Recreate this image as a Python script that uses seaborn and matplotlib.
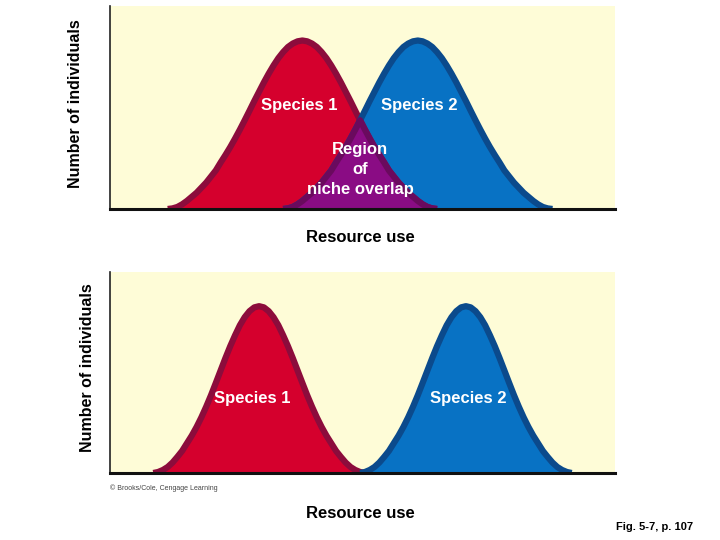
import numpy as np
import matplotlib
matplotlib.use("Agg")
import matplotlib.pyplot as plt
import seaborn as sns

# ---- data (resource use axis 0-105, individuals 0-100) ----
# top panel: both species on one grid, x = 12 .. 92 (zeros outside each niche)
top_x = [12, 13, 14, 15, 16, 17, 18, 19, 20, 21, 22, 23, 24, 25, 26, 27, 28, 29, 30, 31,
         32, 33, 34, 35, 36, 37, 38, 39, 40, 41, 42, 43, 44, 45, 46, 47, 48, 49, 50, 51,
         52, 53, 54, 55, 56, 57, 58, 59, 60, 61, 62, 63, 64, 65, 66, 67, 68, 69, 70, 71,
         72, 73, 74, 75, 76, 77, 78, 79, 80, 81, 82, 83, 84, 85, 86, 87, 88, 89, 90, 91, 92]
top_species1 = [0, 0.3, 1, 2.3, 4, 6, 8, 10.5, 13, 16, 19, 22.9, 26.6, 30.5, 34.7, 39.1,
                43.7, 48.4, 53.2, 57.8, 62.4, 66.7, 70.7, 74.3, 77.3, 79.8, 81.5, 82.6, 83,
                82.6, 81.5, 79.8, 77.3, 74.3, 70.7, 66.7, 62.4, 57.8, 53.2, 48.4, 43.7, 39.1,
                34.7, 30.5, 26.6, 22.9, 19, 16, 13, 10.5, 8, 6, 4, 2.3, 1, 0.3, 0] + [0] * 24
top_species2 = [0] * 24 + [0, 0.3, 1, 2.3, 4, 6, 8, 10.5, 13, 16, 19, 22.9, 26.6, 30.5, 34.7,
                           39.1, 43.7, 48.4, 53.2, 57.8, 62.4, 66.7, 70.7, 74.3, 77.3, 79.8,
                           81.5, 82.6, 83, 82.6, 81.5, 79.8, 77.3, 74.3, 70.7, 66.7, 62.4,
                           57.8, 53.2, 48.4, 43.7, 39.1, 34.7, 30.5, 26.6, 22.9, 19, 16, 13,
                           10.5, 8, 6, 4, 2.3, 1, 0.3, 0]

# bottom panel: separate niches
bottom_x1 = [9, 10, 11, 12, 13, 14, 15, 16, 17, 18, 19, 20, 21, 22, 23, 24, 25, 26, 27, 28,
             29, 30, 31, 32, 33, 34, 35, 36, 37, 38, 39, 40, 41, 42, 43, 44, 45, 46, 47, 48,
             49, 50, 51, 52, 53]
bottom_species1 = [0, 0.5, 1.5, 3, 5.2, 8, 11, 14.8, 18.6, 22.9, 27.7, 33, 38.7, 44.8, 51,
                   57.2, 63.1, 68.5, 73.5, 77.5, 80.5, 82.4, 83, 82.4, 80.5, 77.5, 73.5, 68.5,
                   63.1, 57.2, 51, 44.8, 38.7, 33, 27.7, 22.9, 18.6, 14.8, 11, 8, 5.2, 3, 1.5,
                   0.5, 0]
bottom_x2 = [52, 53, 54, 55, 56, 57, 58, 59, 60, 61, 62, 63, 64, 65, 66, 67, 68, 69, 70, 71,
             72, 73, 74, 75, 76, 77, 78, 79, 80, 81, 82, 83, 84, 85, 86, 87, 88, 89, 90, 91,
             92, 93, 94, 95, 96]
bottom_species2 = [0, 0.5, 1.5, 3, 5.2, 8, 11, 14.8, 18.6, 22.9, 27.7, 33, 38.7, 44.8, 51,
                   57.2, 63.1, 68.5, 73.5, 77.5, 80.5, 82.4, 83, 82.4, 80.5, 77.5, 73.5, 68.5,
                   63.1, 57.2, 51, 44.8, 38.7, 33, 27.7, 22.9, 18.6, 14.8, 11, 8, 5.2, 3, 1.5,
                   0.5, 0]

# colours
BG = "#FEFCD7"
RED, RED_EDGE = "#D5002D", "#8C0C3C"
BLUE, BLUE_EDGE = "#0872C4", "#0B4A8C"
PURPLE, PURPLE_EDGE = "#8A0C84", "#6A0A5E"
LW = 4.5

sns.set_theme(style="white")
plt.rcParams["font.family"] = ["Liberation Sans", "DejaVu Sans"]
plt.rcParams["font.weight"] = "bold"


def support(y):
    # points that belong to the visible part of a curve (drop long runs of zeros)
    y = np.asarray(y, float)
    prev = np.r_[0, y[:-1]]
    nxt = np.r_[y[1:], 0]
    return (y > 0) | (prev > 0) | (nxt > 0)


def curve(ax, x, y, fill, edge):
    x = np.asarray(x, float)
    y = np.asarray(y, float)
    ax.fill_between(x, 0, y, color=fill, lw=0, zorder=1)
    m = support(y)
    sns.lineplot(x=x[m], y=y[m], ax=ax, color=edge, lw=LW, sort=False,
                 solid_capstyle="butt", solid_joinstyle="round", zorder=2)


def style_axes(ax):
    ax.set_facecolor(BG)
    ax.set_xlim(0, 105)
    ax.set_ylim(0, 100)
    ax.set_xticks([])
    ax.set_yticks([])
    ax.set_xlabel("")
    ax.set_ylabel("")
    for s in ["top", "right"]:
        ax.spines[s].set_visible(False)
    ax.spines["left"].set_color("#222222")
    ax.spines["left"].set_linewidth(1.2)
    ax.spines["bottom"].set_color("#111111")
    ax.spines["bottom"].set_linewidth(2.2)
    ax.spines["bottom"].set_zorder(5)


fig = plt.figure(figsize=(7.2, 5.4), dpi=100)
ax1 = fig.add_axes([110 / 720, 1 - 209 / 540, 505 / 720, 203 / 540])
ax2 = fig.add_axes([110 / 720, 1 - 473 / 540, 505 / 720, 201 / 540])

# ---- top panel: overlapping niches ----
curve(ax1, top_x, top_species1, RED, RED_EDGE)
curve(ax1, top_x, top_species2, BLUE, BLUE_EDGE)
tx = np.asarray(top_x, float)
overlap = np.minimum(np.asarray(top_species1, float), np.asarray(top_species2, float))
mo = support(overlap)
ax1.fill_between(tx, 0, overlap, color=PURPLE, lw=0, zorder=3)
ax1.plot(tx[mo], overlap[mo], color=PURPLE_EDGE, lw=LW, solid_capstyle="butt",
         solid_joinstyle="round", zorder=4)
style_axes(ax1)

lab = dict(color="white", fontsize=12, fontweight="bold", ha="center", va="center", zorder=6)
ax1.text(39.3, 51, "Species 1", **lab)
ax1.text(64.4, 51, "Species 2", **lab)
ax1.text(52, 19.5, "Region\nof\nniche overlap", linespacing=1.4, **lab)

# ---- bottom panel: separated niches ----
curve(ax2, bottom_x1, bottom_species1, RED, RED_EDGE)
curve(ax2, bottom_x2, bottom_species2, BLUE, BLUE_EDGE)
style_axes(ax2)
ax2.text(29.5, 37, "Species 1", **lab)
ax2.text(74.4, 37, "Species 2", **lab)

# ---- figure texts ----
fig.text(75 / 720, 1 - 104 / 540, "Number of individuals", rotation=90, ha="center",
         va="center", fontsize=11.5, fontweight="bold", color="black")
fig.text(88 / 720, 1 - 368 / 540, "Number of individuals", rotation=90, ha="center",
         va="center", fontsize=11.5, fontweight="bold", color="black")
fig.text(360 / 720, 1 - 237 / 540, "Resource use", ha="center", va="center",
         fontsize=12, fontweight="bold", color="black")
fig.text(360 / 720, 1 - 513 / 540, "Resource use", ha="center", va="center",
         fontsize=12, fontweight="bold", color="black")
fig.text(110 / 720, 1 - 488 / 540, "\u00a9 Brooks/Cole, Cengage Learning", ha="left",
         va="center", fontsize=5, fontweight="normal", color="#444444")
fig.text(655 / 720, 1 - 527 / 540, "Fig. 5-7, p. 107", ha="center", va="center",
         fontsize=8, fontweight="bold", color="black",
         family=["Liberation Sans Narrow", "Liberation Sans", "DejaVu Sans"])

fig.savefig("out.png", dpi=100, facecolor="white")
